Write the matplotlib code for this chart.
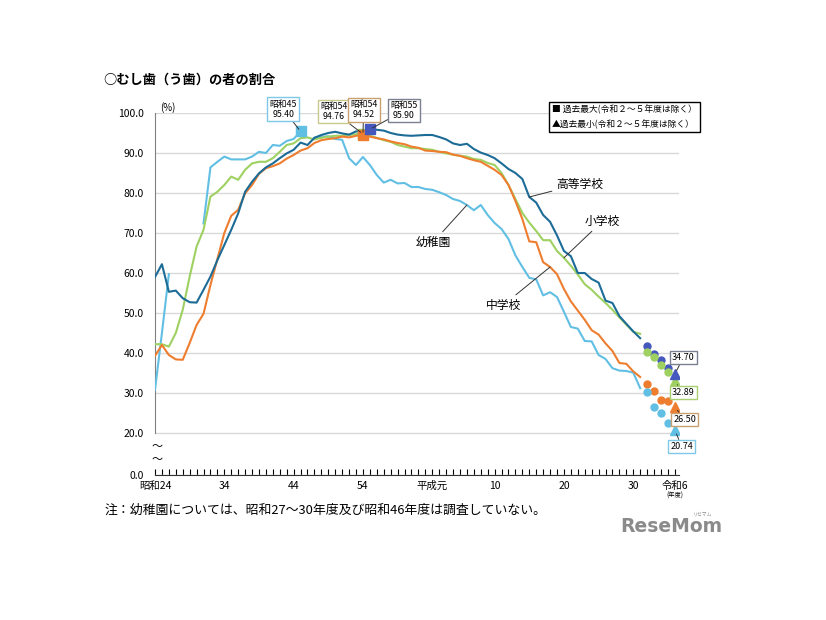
import numpy as np
import matplotlib.pyplot as plt

plt.rcParams['font.family'] = ['Noto Sans CJK JP', 'DejaVu Sans']

# school years 1949 (昭和24) .. 2019 (令和元)
years = np.arange(1949, 2020)
nan = np.nan

kinder = [30.8, 45.0, 59.7, nan, nan, nan, nan, 72.4, 86.4, 87.8,
          89.1, 88.4, 88.4, 88.4, 89.1, 90.3, 90.0, 92.0, 91.8, 93.0,
          93.5, 95.4, nan, 93.8, 94.0, 94.2, 93.5, 93.3, 88.7, 87.0,
          89.0, 87.0, 84.5, 82.6, 83.3, 82.4, 82.5, 81.5, 81.5, 81.0,
          80.8, 80.2, 79.5, 78.5, 78.0, 77.0, 75.7, 77.0, 74.5, 72.5,
          71.0, 68.5, 64.4, 61.5, 58.8, 58.4, 54.4, 55.2, 54.0, 50.3,
          46.5, 46.1, 43.0, 42.9, 39.5, 38.5, 36.2, 35.6, 35.5, 35.1,
          31.2]
elem = [42.2, 42.2, 41.6, 45.0, 50.8, 59.1, 66.6, 70.8, 79.1, 80.3,
        82.0, 84.1, 83.3, 85.8, 87.4, 87.8, 87.8, 88.7, 90.3, 92.0,
        92.4, 93.7, 93.9, 93.4, 93.8, 94.1, 94.3, 94.3, 94.5, 94.7,
        94.76, 94.3, 93.8, 93.2, 92.8, 92.0, 91.6, 91.2, 91.2, 91.0,
        90.8, 90.3, 89.9, 89.6, 89.3, 89.1, 88.5, 88.3, 87.5, 87.0,
        85.0, 82.0, 78.5, 75.0, 72.6, 70.5, 68.2, 68.2, 65.5, 63.8,
        61.8, 59.6, 57.2, 55.8, 54.1, 52.5, 50.8, 48.9, 47.1, 45.3,
        44.8]
junior = [39.3, 42.0, 39.5, 38.4, 38.3, 42.5, 47.0, 49.8, 57.0, 63.5,
          70.0, 74.3, 75.8, 79.9, 82.0, 84.8, 86.2, 86.7, 87.4, 88.6,
          89.5, 90.6, 91.2, 92.5, 93.2, 93.5, 93.7, 94.1, 93.9, 94.3,
          94.52, 94.1, 93.7, 93.4, 92.9, 92.5, 92.2, 91.6, 91.3, 90.6,
          90.5, 90.3, 90.2, 89.6, 89.3, 88.7, 88.2, 87.8, 86.8, 85.8,
          84.5, 82.0, 78.0, 73.5, 67.9, 67.7, 62.7, 61.5, 59.7, 56.0,
          52.9, 50.6, 48.3, 45.7, 44.6, 42.4, 40.5, 37.5, 37.3, 35.4,
          34.0]
high = [59.0, 62.2, 55.3, 55.6, 53.7, 52.7, 52.6, 55.8, 59.1, 63.2,
        67.0, 70.8, 74.9, 80.3, 82.8, 84.9, 86.4, 87.4, 88.7, 89.9,
        90.8, 92.6, 92.0, 93.8, 94.5, 95.0, 95.3, 94.9, 94.6, 95.4,
        95.3, 95.9, 95.8, 95.6, 95.0, 94.6, 94.4, 94.3, 94.4, 94.5,
        94.5, 94.0, 93.4, 92.4, 92.0, 92.3, 91.0, 90.1, 89.5, 88.7,
        87.4, 86.0, 85.0, 83.5, 79.0, 77.6, 74.5, 72.8, 69.4, 65.5,
        64.2, 60.0, 60.0, 58.5, 57.6, 53.1, 52.5, 49.2, 47.3, 45.4,
        43.7]

# 令和2〜5年度 (dots) and 令和6年度 (triangles)
recent_years = [2020, 2021, 2022, 2023]
kinder_recent = [30.34, 26.49, 24.93, 22.55]
elem_recent = [40.21, 39.04, 37.02, 35.3]
junior_recent = [32.16, 30.38, 28.24, 28.0]
high_recent = [41.66, 39.77, 38.30, 36.3]
last_year = 2024
last_vals = {'kinder': 20.74, 'elem': 32.89, 'junior': 26.50, 'high': 34.70}

# past maximum
peak_years = {'kinder': 1970, 'elem': 1979, 'junior': 1979, 'high': 1980}
peak_vals = {'kinder': 95.40, 'elem': 94.76, 'junior': 94.52, 'high': 95.90}

tick_years = [1949, 1959, 1969, 1979, 1989, 1998, 2008, 2018, 2024]
tick_labels = ['昭和24', '34', '44', '54', '平成元', '10', '20', '30', '令和6']

c_kinder = '#62bfe4'
c_elem = '#9ed161'
c_junior = '#ee7d2f'
c_high = '#1c6c97'
c_high_mark = '#4558bd'

fig = plt.figure(figsize=(8.26, 6.2), dpi=100)
ax = fig.add_axes([155 / 826, 1 - 475 / 620, 524 / 826, 362 / 620])

lw = 1.5
ax.plot(years, kinder, color=c_kinder, lw=lw, zorder=3)
ax.plot(years, elem, color=c_elem, lw=lw, zorder=3)
ax.plot(years, junior, color=c_junior, lw=lw, zorder=3)
ax.plot(years, high, color=c_high, lw=lw, zorder=4)

ms = 5
ax.plot(recent_years, high_recent, 'o', color=c_high_mark, ms=ms, zorder=5)
ax.plot(recent_years, elem_recent, 'o', color=c_elem, ms=ms, zorder=5)
ax.plot(recent_years, junior_recent, 'o', color=c_junior, ms=ms, zorder=5)
ax.plot(recent_years, kinder_recent, 'o', color=c_kinder, ms=ms, zorder=5)

tri_colors = {'kinder': c_kinder, 'elem': c_elem, 'junior': c_junior, 'high': c_high_mark}
for k, v in last_vals.items():
    ax.plot(last_year, v, '^', color=tri_colors[k], ms=6.5, zorder=6)

sq_colors = {'kinder': c_kinder, 'elem': c_elem, 'junior': c_junior, 'high': c_high_mark}
for k in ['kinder', 'elem', 'junior', 'high']:
    ax.plot(peak_years[k], peak_vals[k], 's', color=sq_colors[k], ms=7, zorder=6)


# peak callouts
def callout(x, y, text, dx, dy, edge):
    ax.annotate(text, xy=(x, y), xytext=(dx, dy), textcoords='offset points',
                ha='center', va='center', fontsize=6.3, linespacing=1.15,
                bbox=dict(boxstyle='square,pad=0.25', fc='white', ec=edge, lw=1),
                arrowprops=dict(arrowstyle='-', color='#333333', lw=0.7,
                                shrinkA=0, shrinkB=2),
                annotation_clip=False, zorder=7)


callout(peak_years['kinder'], peak_vals['kinder'], '昭和45\n95.40', -12.5, 16, '#7fc8e6')
callout(peak_years['elem'], peak_vals['elem'], '昭和54\n94.76', -21, 16, '#c9c98a')
callout(peak_years['junior'], peak_vals['junior'], '昭和54\n94.52', 0.5, 18, '#c8a070')
callout(peak_years['high'], peak_vals['high'], '昭和55\n95.90', 24.5, 13.5, '#7a8090')


def endbox(k, dx, dy, edge):
    v = last_vals[k]
    ax.annotate(f'{v:.2f}', xy=(last_year, v), xytext=(dx, dy), textcoords='offset points',
                ha='center', va='center', fontsize=6.5,
                bbox=dict(boxstyle='square,pad=0.25', fc='white', ec=edge, lw=1),
                arrowprops=dict(arrowstyle='-', color='#333333', lw=0.7,
                                shrinkA=0, shrinkB=3),
                annotation_clip=False, zorder=7)


endbox('high', 6, 12, '#7a8090')
endbox('elem', 6, -8, '#a8d070')
endbox('junior', 7, -9, '#c8a070')
endbox('kinder', 5, -12, '#7fc8e6')


# series labels (text placed beside the line, leader to a point on it)
def series_label(x, vals, text, tx, ty, ha):
    y = vals[x - 1949]
    ax.annotate(text, xy=(x, y), xytext=(tx / 826, 1 - ty / 620),
                textcoords='figure fraction', ha=ha, va='center', fontsize=8.5,
                arrowprops=dict(arrowstyle='-', color='#333333', lw=0.7,
                                shrinkA=1, shrinkB=0),
                zorder=7)


series_label(2003, high, '高等学校', 556, 184, 'left')
series_label(2008, elem, '小学校', 585, 221, 'left')
series_label(1994, kinder, '幼稚園', 451, 242, 'right')
series_label(2006, junior, '中学校', 521, 305, 'right')

# axes styling
ax.set_xlim(1949, 2024.6)
ax.set_ylim(9.5, 100)
ax.set_yticks(list(range(20, 101, 10)) + [9.5])
ax.set_yticklabels([f'{v:.1f}' for v in range(20, 101, 10)] + ['0.0'], fontsize=7.5)
ax.tick_params(axis='y', length=0, pad=8)
ax.yaxis.grid(True, color='#d9d9d9', lw=1)
ax.set_axisbelow(True)

ax.set_xticks(tick_years)
ax.set_xticklabels(tick_labels, fontsize=7.5)
ax.set_xticks(np.arange(1949, 2025), minor=True)
ax.tick_params(axis='x', which='both', direction='in', length=4, width=0.8, pad=4)

for s in ['top', 'right']:
    ax.spines[s].set_visible(False)
ax.spines['left'].set_bounds(20, 100)
ax.spines['left'].set_color('#808080')
ax.spines['bottom'].set_color('#333333')

ax.text(1949.3, 16.5, '～', fontsize=8, ha='center', va='center')
ax.text(1949.3, 13.2, '～', fontsize=8, ha='center', va='center')
ax.text(0.01, 1.0, '(%)', transform=ax.transAxes, fontsize=7, ha='left', va='bottom')
ax.text(2024, 4.4, '(年度)', fontsize=4.5, ha='center', va='center')

fig.text(103 / 826, 1 - 80 / 620, '○むし歯（う歯）の者の割合', fontsize=9.5, weight='bold',
         ha='left', va='center')
fig.text(552 / 826, 1 - 117 / 620,
         '■ 過去最大(令和２～５年度は除く）\n▲過去最小(令和２～５年度は除く）',
         fontsize=6.3, ha='left', va='center', linespacing=1.7,
         bbox=dict(boxstyle='square,pad=0.35', fc='white', ec='black', lw=1))
fig.text(105 / 826, 1 - 510 / 620,
         '注：幼稚園については、昭和27～30年度及び昭和46年度は調査していない。',
         fontsize=9.3, ha='left', va='center')
fig.text(671 / 826, 1 - 527 / 620, 'ReseMom', fontsize=13.5, weight='bold',
         color='#8a8a8a', ha='center', va='center', family='DejaVu Sans')
fig.text(703 / 826, 1 - 514 / 620, 'リセマム', fontsize=3.5, color='#8a8a8a',
         ha='center', va='center')

fig.savefig('out.png', dpi=100)
